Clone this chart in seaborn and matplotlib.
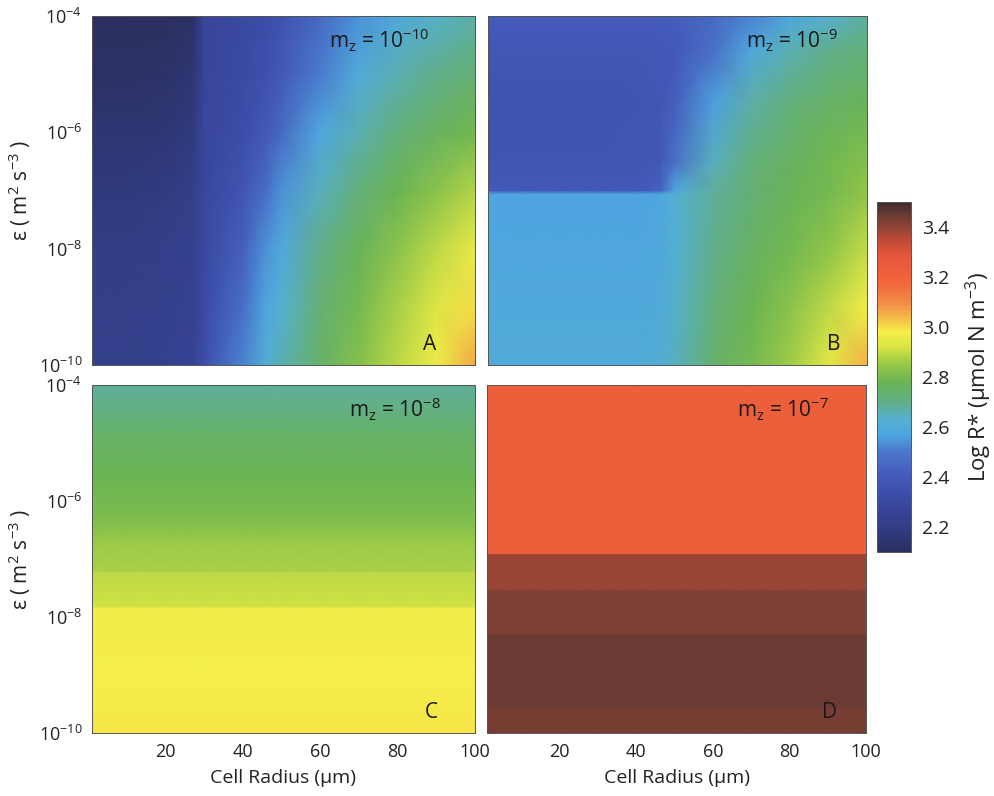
import numpy as np
import matplotlib
matplotlib.use("Agg")
import matplotlib.pyplot as plt
import seaborn as sns
from matplotlib.colors import LinearSegmentedColormap, Normalize
from matplotlib.cm import ScalarMappable
from matplotlib.ticker import FixedLocator, NullFormatter, FuncFormatter

sns.set_theme(style="ticks")
plt.rcParams["font.family"] = ["Open Sans", "DejaVu Sans"]
plt.rcParams["mathtext.fontset"] = "custom"
plt.rcParams["mathtext.rm"] = "Open Sans"
plt.rcParams["mathtext.it"] = "Open Sans:italic"
plt.rcParams["mathtext.bf"] = "Open Sans:bold"

# ---------------------------------------------------------------- data
radius_um = [1, 10, 20, 27, 30, 40, 46, 50, 60, 70, 80, 90, 100]

# panel A, m_z = 1e-10 (rows: log10 epsilon, columns: radius)
log_eps_A = [-10, -9, -8, -7, -6, -5, -4]
logR_A = [
    [2.22, 2.22, 2.23, 2.25, 2.33, 2.52, 2.61, 2.66, 2.75, 2.82, 2.89, 2.96, 3.06],
    [2.21, 2.21, 2.22, 2.24, 2.31, 2.47, 2.58, 2.63, 2.73, 2.80, 2.87, 2.93, 3.00],
    [2.20, 2.20, 2.21, 2.23, 2.30, 2.42, 2.54, 2.59, 2.70, 2.77, 2.83, 2.89, 2.95],
    [2.18, 2.18, 2.19, 2.21, 2.29, 2.37, 2.47, 2.54, 2.65, 2.72, 2.78, 2.83, 2.88],
    [2.15, 2.15, 2.16, 2.18, 2.28, 2.33, 2.40, 2.46, 2.58, 2.66, 2.72, 2.76, 2.79],
    [2.12, 2.12, 2.13, 2.15, 2.27, 2.31, 2.35, 2.39, 2.51, 2.60, 2.66, 2.70, 2.73],
    [2.10, 2.10, 2.10, 2.12, 2.27, 2.30, 2.33, 2.36, 2.45, 2.54, 2.59, 2.64, 2.67],
]

# panel B, m_z = 1e-9
log_eps_B = [-10, -9, -8.1, -7.06, -7.0, -6.5, -5.5, -4.6, -4]
logR_B = [
    [2.60, 2.60, 2.60, 2.60, 2.60, 2.60, 2.61, 2.65, 2.74, 2.80, 2.86, 2.94, 3.05],
    [2.59, 2.59, 2.59, 2.59, 2.59, 2.59, 2.60, 2.64, 2.72, 2.78, 2.83, 2.89, 2.97],
    [2.58, 2.58, 2.58, 2.58, 2.58, 2.58, 2.59, 2.63, 2.70, 2.76, 2.80, 2.84, 2.90],
    [2.57, 2.57, 2.57, 2.57, 2.57, 2.57, 2.58, 2.62, 2.68, 2.73, 2.77, 2.80, 2.84],
    [2.40, 2.40, 2.40, 2.40, 2.40, 2.40, 2.43, 2.58, 2.68, 2.73, 2.77, 2.80, 2.84],
    [2.37, 2.37, 2.37, 2.37, 2.37, 2.37, 2.39, 2.48, 2.65, 2.72, 2.76, 2.79, 2.82],
    [2.36, 2.36, 2.36, 2.36, 2.36, 2.37, 2.38, 2.42, 2.56, 2.67, 2.72, 2.75, 2.77],
    [2.38, 2.38, 2.38, 2.38, 2.38, 2.38, 2.39, 2.40, 2.48, 2.59, 2.66, 2.70, 2.72],
    [2.41, 2.41, 2.41, 2.41, 2.41, 2.41, 2.41, 2.42, 2.45, 2.52, 2.58, 2.63, 2.68],
]

# panel C, m_z = 1e-8 (no dependence on radius)
log_eps_C = [-10, -9, -7.84, -7.82, -7.22, -7.2, -6.7, -6.3, -5.6, -4.8, -4]
logR_C = [2.99, 2.98, 2.97, 2.91, 2.89, 2.87, 2.85, 2.81, 2.78, 2.74, 2.68]

# panel D, m_z = 1e-7 (no dependence on radius)
log_eps_D = [-10, -9.56, -9.54, -8.32, -8.30, -7.54, -7.52, -6.92, -6.90, -4]
logR_D = [3.43, 3.43, 3.45, 3.45, 3.42, 3.42, 3.39, 3.39, 3.22, 3.22]

mz_labels = [r"m$_\mathrm{z}$ = 10$^{-10}$", r"m$_\mathrm{z}$ = 10$^{-9}$",
             r"m$_\mathrm{z}$ = 10$^{-8}$", r"m$_\mathrm{z}$ = 10$^{-7}$"]
panel_letters = ["A", "B", "C", "D"]

cbar_ticks = [2.2, 2.4, 2.6, 2.8, 3.0, 3.2, 3.4]
x_major = [20, 40, 60, 80, 100]
x_minor = [10, 30, 50, 70, 90]
eps_major = [1e-10, 1e-8, 1e-6, 1e-4]
eps_minor = [1e-9, 1e-7, 1e-5]

# ---------------------------------------------------------------- colours
vmin, vmax = 2.1, 3.5
anchors = [
    (2.10, "#2b2f5e"), (2.20, "#323e86"), (2.30, "#3a49a2"), (2.40, "#4459b8"),
    (2.50, "#4a78cc"), (2.57, "#4ea6e0"), (2.63, "#55b0d0"), (2.70, "#62ae88"),
    (2.78, "#6ab452"), (2.85, "#98c848"), (2.92, "#d8e445"), (2.98, "#f6ee48"),
    (3.05, "#f4b048"), (3.10, "#f28a45"), (3.18, "#f0653c"), (3.28, "#e8573a"),
    (3.35, "#c04a36"), (3.40, "#8e4436"), (3.45, "#6c3a32"), (3.50, "#3e2b2b"),
]
cmap = LinearSegmentedColormap.from_list(
    "logR", [((v - vmin) / (vmax - vmin), c) for v, c in anchors])
norm = Normalize(vmin=vmin, vmax=vmax)

# ---------------------------------------------------------------- figure
W, H = 994, 796
fig = plt.figure(figsize=(W / 100, H / 100), dpi=100)


def frac(x0, y0, x1, y1):
    return [x0 / W, 1 - y1 / H, (x1 - x0) / W, (y1 - y0) / H]


boxes = [frac(92, 16, 475, 365), frac(488, 16, 867, 365),
         frac(92, 385, 475, 733), frac(487, 385, 866, 733)]
axes = [fig.add_axes(b) for b in boxes]

panels = [(log_eps_A, logR_A), (log_eps_B, logR_B),
          (log_eps_C, logR_C), (log_eps_D, logR_D)]
title_x = [0.62, 0.68, 0.67, 0.66]
letter_x = [0.865, 0.895, 0.87, 0.885]

for i, (ax, (lev, vals)) in enumerate(zip(axes, panels)):
    R = np.asarray(radius_um, dtype=float)
    E = 10.0 ** np.asarray(lev, dtype=float)
    Z = np.asarray(vals, dtype=float)
    if Z.ndim == 1:
        Z = np.repeat(Z[:, None], len(R), axis=1)
    ax.set_yscale("log")
    ax.pcolormesh(R, E, Z, shading="gouraud", cmap=cmap, norm=norm,
                  rasterized=True)
    ax.set_xlim(1, 100)
    ax.set_ylim(1e-10, 1e-4)

    ax.xaxis.set_major_locator(FixedLocator(x_major))
    ax.xaxis.set_minor_locator(FixedLocator(x_minor))
    ax.yaxis.set_major_locator(FixedLocator(eps_major))
    ax.yaxis.set_minor_locator(FixedLocator(eps_minor))
    ax.xaxis.set_minor_formatter(NullFormatter())
    ax.yaxis.set_minor_formatter(NullFormatter())
    ax.yaxis.set_major_formatter(
        FuncFormatter(lambda v, p: "10$^{%d}$" % round(np.log10(v))))
    ax.tick_params(which="both", direction="in", length=4, width=0.6,
                   top=True, right=True, colors="#333333",
                   labelsize=13, pad=7)
    ax.tick_params(which="both", labelcolor="#222222")
    for s in ax.spines.values():
        s.set_linewidth(0.7)
        s.set_color("#555555")

    if i in (1, 3):
        ax.tick_params(labelleft=False)
    else:
        ax.set_ylabel("ε ( m$^2$ s$^{-3}$ )", fontsize=15, labelpad=4,
                      color="#222222")
    if i in (0, 1):
        ax.tick_params(labelbottom=False)
    else:
        ax.set_xlabel("Cell Radius (μm)", fontsize=14, labelpad=6,
                      color="#222222")

    ax.text(title_x[i], 0.97, mz_labels[i], transform=ax.transAxes,
            ha="left", va="top", fontsize=15, color="#1a1a1a")
    ax.text(letter_x[i], 0.03, panel_letters[i], transform=ax.transAxes,
            ha="left", va="bottom", fontsize=15, color="#1a1a1a")

cax = fig.add_axes(frac(877, 202, 911, 552))
cb = fig.colorbar(ScalarMappable(norm=norm, cmap=cmap), cax=cax)
cb.set_ticks(cbar_ticks)
cb.ax.yaxis.set_major_formatter(FuncFormatter(lambda v, p: "%.1f" % v))
cax.tick_params(direction="in", length=4, width=0.6, left=True, right=True,
                labelsize=14, pad=8, colors="#333333", labelcolor="#222222")
cb.outline.set_linewidth(0.7)
cb.outline.set_edgecolor("#555555")
cax.set_ylabel("Log R* (μmol N m$^{-3}$)", fontsize=16, labelpad=10,
               color="#222222")

fig.savefig("out.png", dpi=100, facecolor="white")
